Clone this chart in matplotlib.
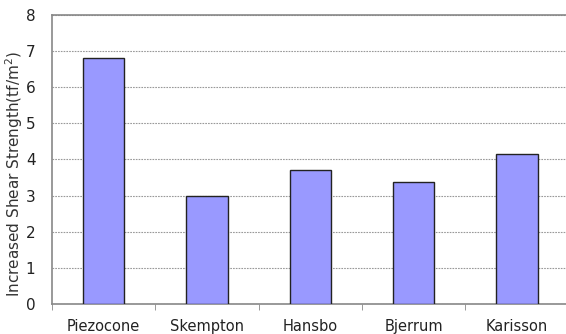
import matplotlib; matplotlib.use('Agg')
import matplotlib.pyplot as plt
import numpy as np

methods = ['Piezocone', 'Skempton', 'Hansbo', 'Bjerrum', 'Karisson']
strength = [6.8, 3.0, 3.72, 3.37, 4.14]
yticks = [0, 1, 2, 3, 4, 5, 6, 7, 8]

plt.rcParams['font.family'] = ['DejaVu Sans']
fig = plt.figure(figsize=(5.66, 3.34), dpi=100)
ax = fig.add_axes([0.092, 0.09, 0.913, 0.865])

x = np.arange(len(methods))
ax.bar(x, strength, width=0.4, color='#9999ff', edgecolor='#222222', linewidth=1.0, zorder=3)

ax.set_ylim(0, 8)
ax.set_xlim(-0.5, len(methods) - 0.5)
ax.set_yticks(yticks)
ax.set_yticklabels([str(v) for v in yticks], fontsize=11, color='#222222')
ax.tick_params(axis='y', length=0, pad=12)
ax.yaxis.grid(True, color='#999999', linestyle=(0, (1.5, 1.0)), linewidth=0.8, zorder=0)

# category labels centred, tick marks on boundaries
ax.set_xticks(x)
ax.set_xticklabels(methods, fontsize=10.5, color='#222222')
ax.tick_params(axis='x', length=0, pad=11)
ax.set_xticks(np.arange(len(methods) + 1) - 0.5, minor=True)
ax.tick_params(axis='x', which='minor', length=4, color='#888888')

for side in ['left', 'bottom', 'top']:
    ax.spines[side].set_color('#888888')
    ax.spines[side].set_linewidth(1.2)
ax.spines['right'].set_visible(False)

ax.set_ylabel('Increased Shear Strength(tf/m$^2$)', fontsize=11, color='#333333')
ax.yaxis.set_label_coords(-0.052, 0.45)

fig.savefig('out.png', dpi=100)
